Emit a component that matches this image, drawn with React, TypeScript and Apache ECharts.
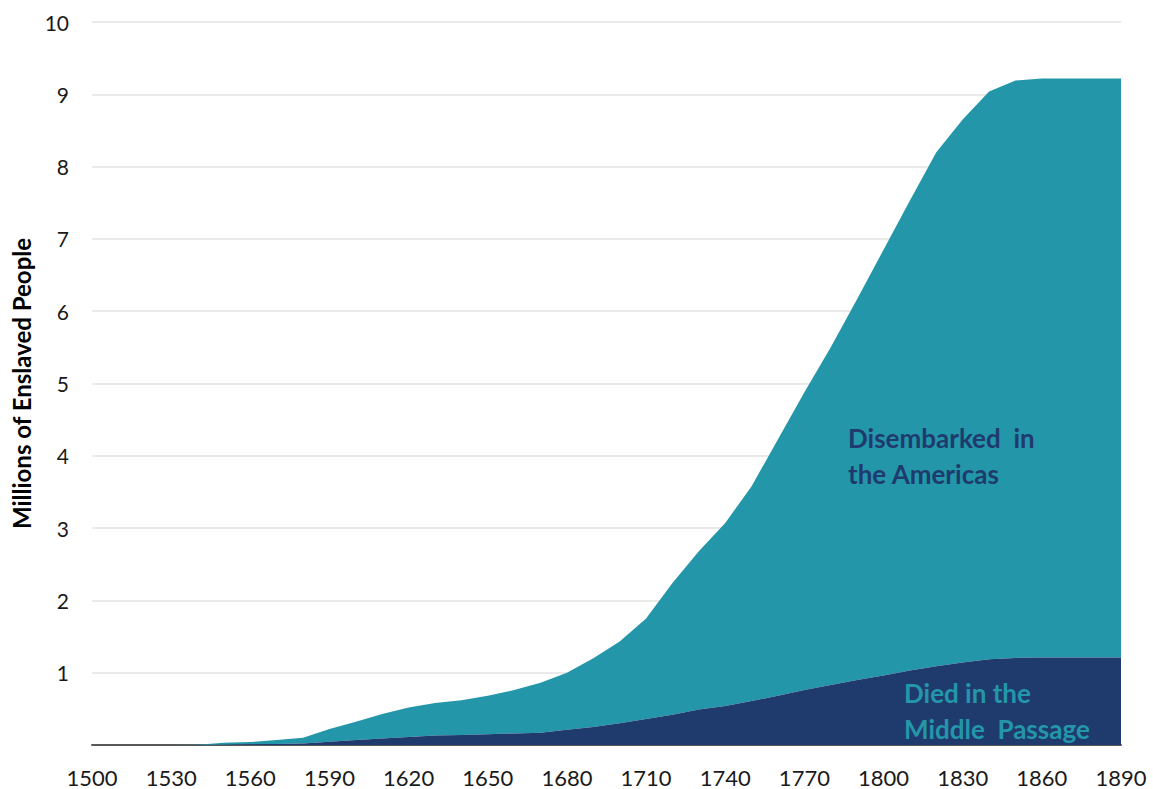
import React, { useEffect, useRef } from "react";
import * as echarts from "echarts";

const years: string[] = [
  "1500", "1510", "1520", "1530", "1540", "1550", "1560", "1570", "1580", "1590",
  "1600", "1610", "1620", "1630", "1640", "1650", "1660", "1670", "1680", "1690",
  "1700", "1710", "1720", "1730", "1740", "1750", "1760", "1770", "1780", "1790",
  "1800", "1810", "1820", "1830", "1840", "1850", "1860", "1870", "1880", "1890",
];

// Millions who died in the Middle Passage (cumulative)
const died: number[] = [
  0, 0, 0, 0, 0, 0.005, 0.01, 0.015, 0.02, 0.045,
  0.07, 0.09, 0.11, 0.13, 0.14, 0.15, 0.16, 0.17, 0.21, 0.25,
  0.3, 0.36, 0.42, 0.49, 0.54, 0.61, 0.68, 0.76, 0.83, 0.9,
  0.96, 1.03, 1.09, 1.14, 1.185, 1.205, 1.21, 1.21, 1.21, 1.21,
];

// Total embarked (cumulative), top of the stack
const total: number[] = [
  0, 0, 0, 0, 0.005, 0.03, 0.04, 0.07, 0.1, 0.22,
  0.32, 0.43, 0.52, 0.58, 0.62, 0.68, 0.76, 0.86, 1.0, 1.2,
  1.43, 1.75, 2.24, 2.68, 3.07, 3.58, 4.23, 4.88, 5.5, 6.17,
  6.85, 7.53, 8.2, 8.65, 9.04, 9.19, 9.22, 9.22, 9.22, 9.22,
];

const disembarked: number[] = total.map((t, i) => Math.max(0, +(t - died[i]).toFixed(3)));

const yTicks: number[] = [0, 1, 2, 3, 4, 5, 6, 7, 8, 9, 10];

const TEAL = "#2397A9";
const NAVY = "#1F3B6E";

export default function App() {
  const ref = useRef<HTMLDivElement>(null);

  useEffect(() => {
    document.body.style.margin = "0";
    if (!ref.current) return;
    const chart = echarts.init(ref.current, undefined, { renderer: "svg" });
    chart.setOption({
      animation: false,
      backgroundColor: "#ffffff",
      textStyle: { fontFamily: "Lato" },
      grid: { left: 92, right: 32, top: 22, bottom: 44, containLabel: false },
      xAxis: {
        type: "category",
        data: years,
        boundaryGap: false,
        axisLine: { show: true, lineStyle: { color: "#595959", width: 2 } },
        axisTick: { show: false },
        axisLabel: {
          interval: 2,
          color: "#1a1a1a",
          fontSize: 22,
          fontFamily: "Lato",
          margin: 21,
        },
        splitLine: { show: false },
      },
      yAxis: {
        type: "value",
        min: yTicks[0],
        max: yTicks[yTicks.length - 1],
        interval: 1,
        name: "Millions of Enslaved People",
        nameLocation: "middle",
        nameGap: 58,
        nameRotate: 90,
        nameTextStyle: {
          fontFamily: "Lato",
          fontWeight: "bold",
          fontSize: 24,
          color: "#000000",
        },
        axisLine: { show: false },
        axisTick: { show: false },
        axisLabel: {
          color: "#1a1a1a",
          fontSize: 21,
          fontFamily: "Lato",
          margin: 23,
          formatter: (v: number) => (v === 0 ? "" : String(v)),
        },
        splitLine: { show: true, lineStyle: { color: "#E3E3E3", width: 1.5 } },
      },
      series: [
        {
          name: "Died in the Middle Passage",
          type: "line",
          stack: "total",
          data: died,
          symbol: "none",
          lineStyle: { width: 0 },
          areaStyle: { color: NAVY, opacity: 1 },
          itemStyle: { color: NAVY },
          z: 3,
        },
        {
          name: "Disembarked in the Americas",
          type: "line",
          stack: "total",
          data: disembarked,
          symbol: "none",
          lineStyle: { width: 0 },
          areaStyle: { color: TEAL, opacity: 1 },
          itemStyle: { color: TEAL },
          z: 2,
        },
      ],
      graphic: [
        {
          type: "text",
          left: 848,
          top: 420,
          z: 10,
          style: {
            text: "Disembarked  in\nthe Americas",
            fill: NAVY,
            font: "bold 26px Lato",
            lineHeight: 36,
          },
        },
        {
          type: "text",
          left: 904,
          top: 675,
          z: 10,
          style: {
            text: "Died in the\nMiddle  Passage",
            fill: TEAL,
            font: "bold 26px Lato",
            lineHeight: 36,
          },
        },
      ],
    });
    return () => chart.dispose();
  }, []);

  return <div ref={ref} style={{ width: 1153, height: 789 }} />;
}
